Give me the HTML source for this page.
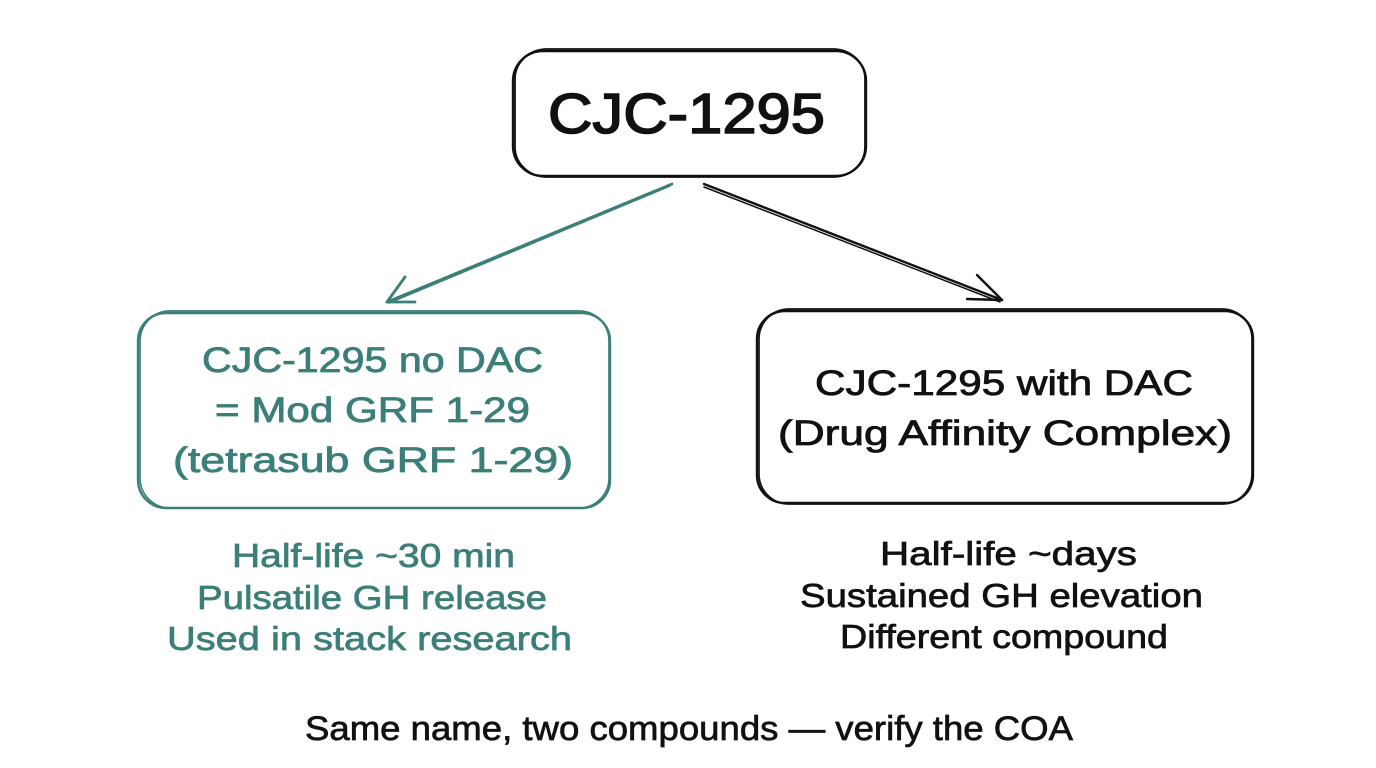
<!DOCTYPE html>
<html>
<head>
<meta charset="utf-8">
<style>
  html,body{margin:0;padding:0;background:#ffffff;}
  body{width:1376px;height:768px;overflow:hidden;}
  svg{display:block;}
  text{font-family:"Liberation Sans", sans-serif;}
</style>
</head>
<body>
<svg width="1376" height="768" viewBox="0 0 1376 768" xmlns="http://www.w3.org/2000/svg">
  <rect x="0" y="0" width="1376" height="768" fill="#ffffff"/>

  <!-- Top box -->
  <g fill="none" stroke="#111" stroke-width="2.4" stroke-linecap="round">
    <rect x="513" y="51" width="353" height="125" rx="30" ry="30"/>
    <rect x="515" y="49" width="350" height="128" rx="32" ry="30" stroke-width="1.8"/>
  </g>
  <text x="548" y="133" font-size="57" fill="#111" stroke="#111" stroke-width="1.6" textLength="277" lengthAdjust="spacingAndGlyphs">CJC-1295</text>

  <!-- Left arrow (teal) -->
  <g fill="none" stroke="#3b7f78" stroke-width="2.8" stroke-linecap="round">
    <line x1="672" y1="184" x2="387" y2="302"/>
    <line x1="670" y1="186" x2="389" y2="303" stroke-width="1.6"/>
    <line x1="387" y1="302" x2="405" y2="277"/>
    <line x1="387" y1="302" x2="415" y2="302"/>
  </g>

  <!-- Right arrow (black) -->
  <g fill="none" stroke="#111" stroke-width="2.4" stroke-linecap="round">
    <line x1="704" y1="184" x2="1002" y2="300"/>
    <line x1="704" y1="187" x2="1000" y2="302" stroke-width="1.5"/>
    <line x1="1002" y1="300" x2="977" y2="275"/>
    <line x1="1002" y1="300" x2="967" y2="299"/>
  </g>

  <!-- Left box (teal) -->
  <g fill="none" stroke="#3b7f78" stroke-width="2.4" stroke-linecap="round">
    <rect x="138" y="313" width="472" height="195" rx="28" ry="28"/>
    <rect x="140" y="311" width="469" height="197" rx="30" ry="30" stroke-width="1.7"/>
  </g>
  <g fill="#3b7f78" stroke="#3b7f78" stroke-width="0.8" font-size="35">
    <text x="202" y="372" textLength="341" lengthAdjust="spacingAndGlyphs">CJC-1295 no DAC</text>
    <text x="215" y="422" textLength="315" lengthAdjust="spacingAndGlyphs">= Mod GRF 1-29</text>
    <text x="173" y="472" textLength="400" lengthAdjust="spacingAndGlyphs">(tetrasub GRF 1-29)</text>
  </g>

  <!-- Right box (black) -->
  <g fill="none" stroke="#111" stroke-width="2.4" stroke-linecap="round">
    <rect x="757" y="311" width="496" height="192" rx="28" ry="28"/>
    <rect x="759" y="309" width="493" height="195" rx="30" ry="30" stroke-width="1.7"/>
  </g>
  <g fill="#111" stroke="#111" stroke-width="0.8" font-size="35">
    <text x="815" y="395" textLength="378" lengthAdjust="spacingAndGlyphs">CJC-1295 with DAC</text>
    <text x="778" y="445" textLength="454" lengthAdjust="spacingAndGlyphs">(Drug Affinity Complex)</text>
  </g>

  <!-- Bottom left notes -->
  <g fill="#3b7f78" stroke="#3b7f78" stroke-width="0.7" font-size="33">
    <text x="232" y="567" textLength="283" lengthAdjust="spacingAndGlyphs">Half-life ~30 min</text>
    <text x="197" y="609" textLength="350" lengthAdjust="spacingAndGlyphs">Pulsatile GH release</text>
    <text x="167" y="650" textLength="405" lengthAdjust="spacingAndGlyphs">Used in stack research</text>
  </g>

  <!-- Bottom right notes -->
  <g fill="#111" stroke="#111" stroke-width="0.7" font-size="33">
    <text x="880" y="565" textLength="257" lengthAdjust="spacingAndGlyphs">Half-life ~days</text>
    <text x="800" y="607" textLength="403" lengthAdjust="spacingAndGlyphs">Sustained GH elevation</text>
    <text x="840" y="648" textLength="328" lengthAdjust="spacingAndGlyphs">Different compound</text>
  </g>

  <!-- Footer -->
  <text x="305" y="740" font-size="34" fill="#111" stroke="#111" stroke-width="0.7" textLength="768" lengthAdjust="spacingAndGlyphs">Same name, two compounds — verify the COA</text>
</svg>
</body>
</html>
